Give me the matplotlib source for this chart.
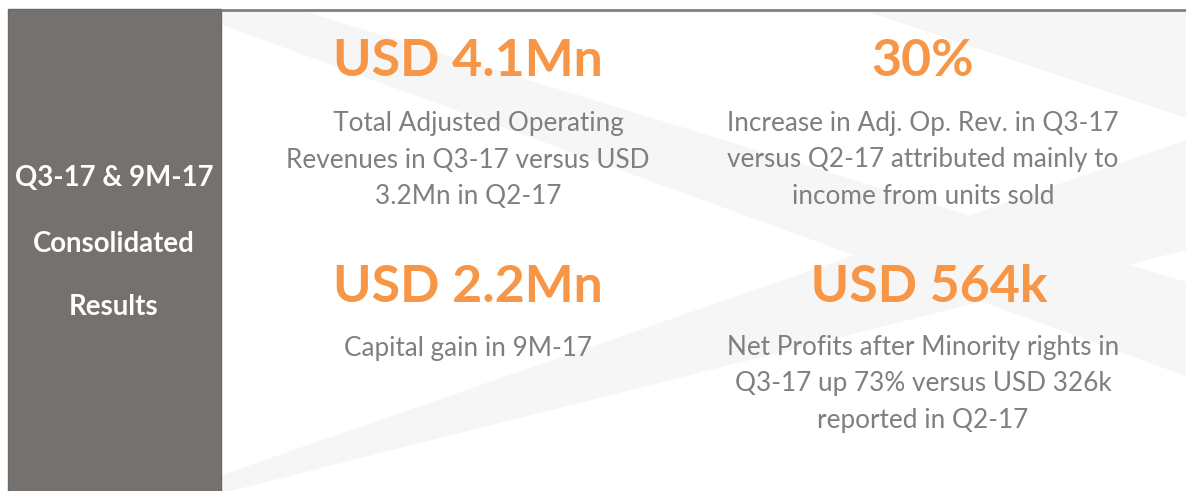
import matplotlib.pyplot as plt
from matplotlib.patches import Rectangle, Polygon

plt.rcParams['font.family'] = ['Lato', 'DejaVu Sans']

# content
side_title = ["Q3-17 & 9M-17", "Consolidated", "Results"]
headlines = ["USD 4.1Mn", "30%", "USD 2.2Mn", " USD 564k"]
descriptions = [
    ["   Total Adjusted Operating", "Revenues in Q3-17 versus USD", "3.2Mn in Q2-17"],
    ["Increase in Adj. Op. Rev. in Q3-17", "versus Q2-17 attributed mainly to", "income from units sold"],
    ["Capital gain in 9M-17"],
    ["Net Profits after Minority rights in", "Q3-17 up 73% versus USD 326k", "reported in Q2-17"],
]

ORANGE = '#F79646'
GREY_TXT = '#7F7F7F'
PANEL = '#75716F'
WM = '#F6F6F6'

W, H = 1186, 491
fig = plt.figure(figsize=(W / 100, H / 100), dpi=100)
ax = fig.add_axes([0, 0, 1, 1])
ax.set_xlim(0, W)
ax.set_ylim(H, 0)
ax.axis('off')

# faint watermark shapes in the background
ax.add_patch(Polygon([(222, 12), (307, 12), (1186, 282), (1186, 376), (222, 25)], color=WM, lw=0))
ax.add_patch(Polygon([(222, 475), (1186, 140), (1186, 250), (230, 491), (222, 491)], color=WM, lw=0))
ax.add_patch(Polygon([(868, 12), (1186, 12), (1186, 118)], color=WM, lw=0))

# left panel and top rule
ax.add_patch(Rectangle((8, 9), 213, H - 9, facecolor=PANEL, edgecolor='#6C6866', lw=1))
ax.plot([221, W], [10, 10], color='#808080', lw=2, solid_capstyle='butt')

fig.canvas.draw()
r = fig.canvas.get_renderer()


def fit_size(s, width, weight):
    t = ax.text(0, 0, s, fontsize=20, fontweight=weight)
    w = t.get_window_extent(r).width
    t.remove()
    return 20 * width / w


big = fit_size("USD 4.1Mn", 270, 'bold')
small = fit_size("Revenues in Q3-17 versus USD", 363, 'normal')
side = fit_size("Q3-17 & 9M-17", 199, 'bold')

for s, y in zip(side_title, [186, 252, 315]):
    ax.text(114, y, s, color='white', fontsize=side, fontweight='bold', ha='center', va='baseline')

col_x = [468, 923, 468, 923]
head_y = [76, 76, 302, 302]
desc_y = [131, 131, 356, 355]
step = 36.5

for i in range(4):
    ax.text(col_x[i], head_y[i], headlines[i], color=ORANGE, fontsize=big, fontweight='bold',
            ha='center', va='baseline')
    for k, line in enumerate(descriptions[i]):
        ax.text(col_x[i], desc_y[i] + k * step, line, color=GREY_TXT, fontsize=small,
                ha='center', va='baseline')

fig.savefig('out.png', dpi=100)
